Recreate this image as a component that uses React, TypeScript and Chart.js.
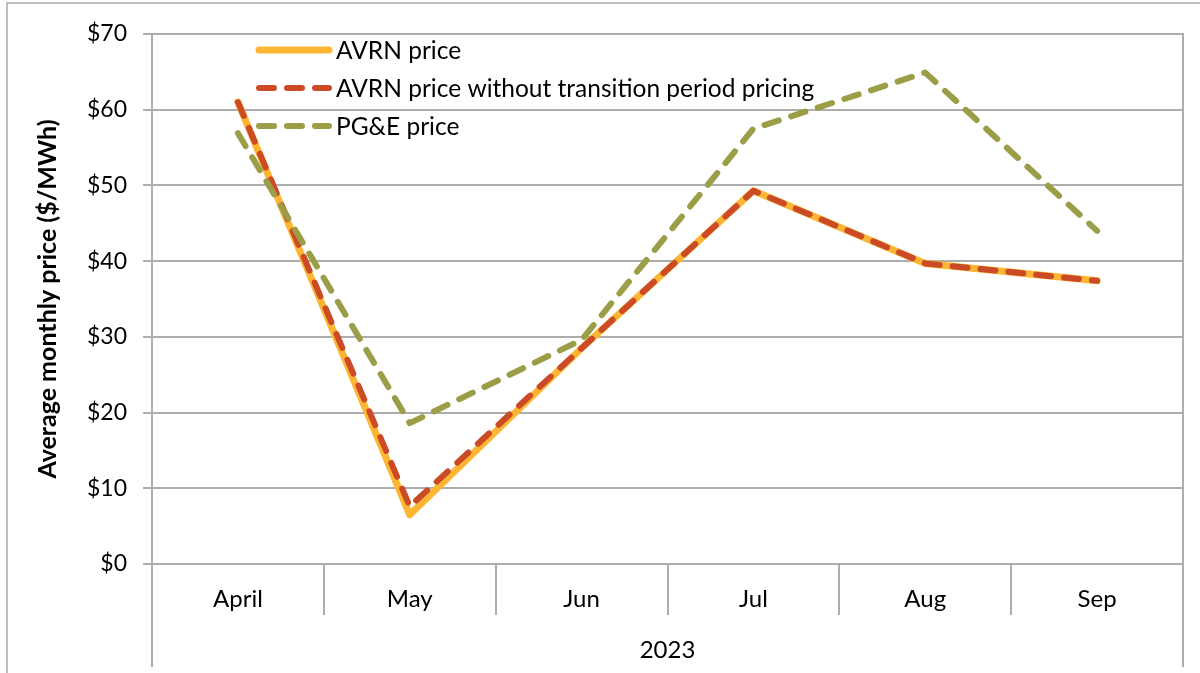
import React, { useEffect, useRef } from 'react';
import { Chart, registerables } from 'chart.js';

Chart.register(...registerables);

const months = ['April', 'May', 'Jun', 'Jul', 'Aug', 'Sep'];
const yearLabel = '2023';
const seriesNames = [
  'AVRN price',
  'AVRN price without transition period pricing',
  'PG&E price',
];
const avrnPrice = [61.0, 6.5, 28.5, 49.3, 39.7, 37.4];
const avrnNoTransition = [61.0, 7.6, 28.5, 49.3, 39.7, 37.4];
const pgePrice = [56.9, 18.6, 29.6, 57.5, 64.9, 44.0];
const yMin = 0;
const yMax = 70;
const yStep = 10;
const yTitle = 'Average monthly price ($/MWh)';

const FONT = 'Lato';
const GRID = '#ADADAD';

const decorPlugin = {
  id: 'decor',
  afterDraw(chart: any) {
    const { ctx, chartArea, scales } = chart;
    const xs = scales.x;
    const { left, right, top, bottom } = chartArea;
    ctx.save();
    // outer frame (top + left edges)
    ctx.strokeStyle = '#BEBEBE';
    ctx.lineWidth = 2;
    ctx.beginPath();
    ctx.moveTo(7, 673);
    ctx.lineTo(7, 3);
    ctx.lineTo(1200, 3);
    ctx.stroke();

    // plot verticals extended through the category area
    ctx.strokeStyle = GRID;
    ctx.lineWidth = 2;
    ctx.beginPath();
    ctx.moveTo(left, top - 1);
    ctx.lineTo(left, 667);
    ctx.moveTo(right, top - 1);
    ctx.lineTo(right, 667);
    // category separators
    const n = chart.data.labels.length;
    for (let k = 1; k < n; k++) {
      const xb = Math.round((xs.getPixelForValue(k - 1) + xs.getPixelForValue(k)) / 2);
      ctx.moveTo(xb, bottom);
      ctx.lineTo(xb, 615);
    }
    ctx.stroke();

    // group label
    ctx.fillStyle = '#000';
    ctx.font = `24px ${FONT}`;
    ctx.textAlign = 'center';
    ctx.textBaseline = 'middle';
    ctx.fillText(yearLabel, (left + right) / 2, 650);

    // legend inside plot
    ctx.textAlign = 'left';
    ctx.font = `24.5px ${FONT}`;
    chart.data.datasets.forEach((ds: any, i: number) => {
      const y = 50 + 38 * i;
      ctx.save();
      ctx.strokeStyle = ds.borderColor;
      ctx.lineWidth = ds.borderWidth;
      ctx.lineCap = 'round';
      ctx.setLineDash(ds.borderDash || []);
      ctx.beginPath();
      ctx.moveTo(259, y);
      ctx.lineTo(329, y);
      ctx.stroke();
      ctx.restore();
      ctx.fillStyle = '#000';
      ctx.fillText(ds.label, 336, y + 1);
    });
    ctx.restore();
  },
};

export default function App() {
  const ref = useRef<HTMLCanvasElement | null>(null);
  useEffect(() => {
    if (!ref.current) return;
    const chart = new Chart(ref.current, {
      type: 'line',
      data: {
        labels: months,
        datasets: [
          {
            label: seriesNames[0],
            data: avrnPrice,
            borderColor: '#FDB633',
            borderWidth: 7,
            borderCapStyle: 'round',
            borderJoinStyle: 'round',
            pointRadius: 0,
            tension: 0,
            order: 3,
          },
          {
            label: seriesNames[1],
            data: avrnNoTransition,
            borderColor: '#CB4B27',
            borderWidth: 6,
            borderDash: [15, 13],
            borderCapStyle: 'round',
            borderJoinStyle: 'round',
            pointRadius: 0,
            tension: 0,
            order: 2,
          },
          {
            label: seriesNames[2],
            data: pgePrice,
            borderColor: '#9B9E47',
            borderWidth: 6,
            borderDash: [15, 13],
            borderCapStyle: 'round',
            borderJoinStyle: 'round',
            pointRadius: 0,
            tension: 0,
            order: 1,
          },
        ],
      },
      options: {
        responsive: false,
        animation: false,
        events: [],
        layout: { padding: { left: 8, top: 34, right: 17, bottom: 0 } },
        plugins: { legend: { display: false }, tooltip: { enabled: false } },
        scales: {
          x: {
            offset: true,
            grid: { display: false, drawTicks: false },
            border: { display: false },
            ticks: {
              color: '#000',
              font: { family: FONT, size: 24 },
              padding: 21,
              maxRotation: 0,
            },
            afterFit: (s: any) => {
              s.height = 109;
            },
          },
          y: {
            min: yMin,
            max: yMax,
            grid: { color: GRID, lineWidth: 2, drawTicks: true, tickLength: 9, tickColor: GRID },
            border: { display: false },
            ticks: {
              stepSize: yStep,
              color: '#000',
              padding: 16,
              font: { family: FONT, size: 23 },
              callback: (v: any) => `$${v}`,
            },
            title: {
              display: true,
              text: yTitle,
              color: '#000',
              font: { family: FONT, size: 25, weight: 'bold' },
              padding: { top: 25, bottom: 0 },
            },
            afterFit: (s: any) => {
              s.width = 144;
            },
          },
        },
      },
      plugins: [decorPlugin],
    } as any);
    return () => chart.destroy();
  }, []);
  return (
    <div style={{ position: 'absolute', left: 0, top: 0, width: 1200, height: 673, background: '#fff' }}>
      <canvas ref={ref} width={1200} height={673} />
    </div>
  );
}
